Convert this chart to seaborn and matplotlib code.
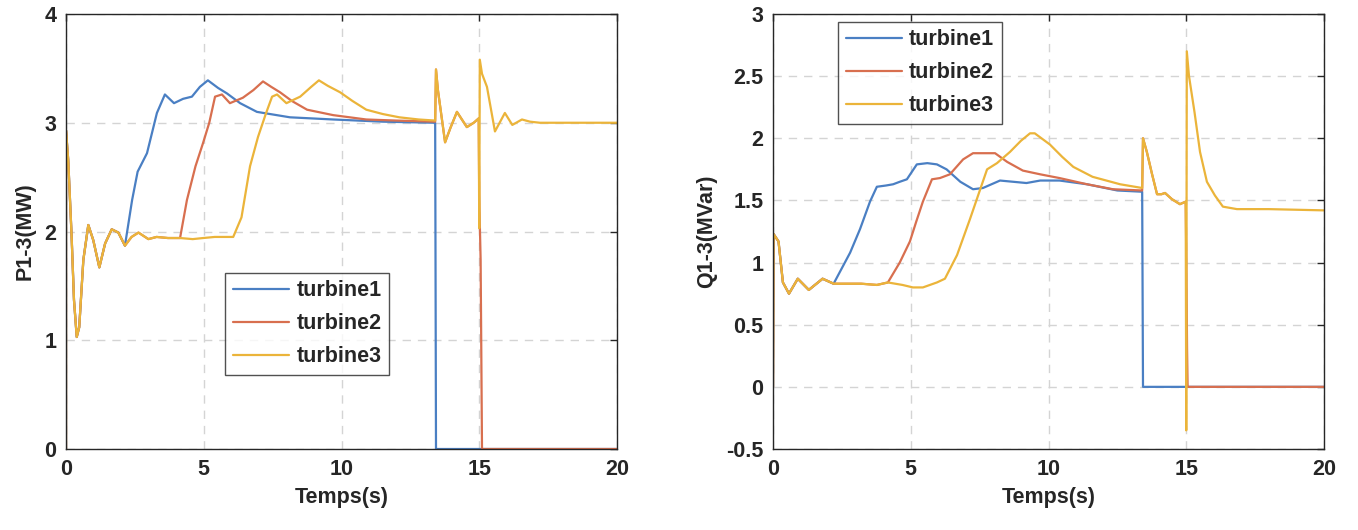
import numpy as np
import pandas as pd
import seaborn as sns
import matplotlib.pyplot as plt
from matplotlib.ticker import FixedLocator, FixedFormatter

# ---------------- active power P (MW) ----------------
# start-up transient, common to the three turbines
P_T_START = [0, 0, 0.08, 0.2, 0.29, 0.39, 0.48, 0.63, 0.81, 0.99, 1.21, 1.42, 1.66, 1.9, 2.14]
P_START = [0, 2.93, 2.66, 1.98, 1.37, 1.03, 1.12, 1.74, 2.06, 1.92, 1.67, 1.89, 2.02, 1.99, 1.87]
# plateau before turbine2 starts
P_T_PLAT_A = [2.38, 2.63, 2.99, 3.29, 3.7, 4.14]
P_PLAT_A = [1.95, 1.99, 1.93, 1.95, 1.94, 1.94]
# plateau before turbine3 starts
P_T_PLAT_B = [4.6, 4.98, 5.4, 5.83, 6.07]
P_PLAT_B = [1.93, 1.94, 1.95, 1.95, 1.95]
# turbine1 rise and settling
P1_T = [2.4, 2.6, 2.94, 3.3, 3.59, 3.92, 4.25, 4.57, 4.86, 5.15, 5.52, 5.84, 6.32, 6.93,
        8.13, 9.7, 11.5, 13.4, 13.43, 15.1, 20]
P1 = [2.29, 2.55, 2.72, 3.09, 3.26, 3.18, 3.22, 3.24, 3.33, 3.39, 3.32, 3.27, 3.18, 3.10,
      3.05, 3.03, 3.01, 3.0, 0, 0, 0]
# turbine2 rise and settling
P2_T = [4.39, 4.7, 4.97, 5.2, 5.41, 5.66, 5.95, 6.42, 6.8, 7.15, 7.45, 7.77, 8.2, 8.75,
        9.7, 10.9, 12.0, 13.4]
P2 = [2.29, 2.6, 2.81, 3.0, 3.24, 3.26, 3.18, 3.23, 3.3, 3.38, 3.33, 3.28, 3.2, 3.12,
      3.07, 3.03, 3.02, 3.01]
# turbine3 rise and settling
P3_T = [6.37, 6.68, 6.97, 7.25, 7.48, 7.66, 8.0, 8.5, 8.9, 9.18, 9.5, 9.95, 10.4, 10.9,
        11.5, 12.1, 12.8, 13.4]
P3 = [2.13, 2.6, 2.87, 3.08, 3.24, 3.26, 3.18, 3.24, 3.33, 3.39, 3.34, 3.28, 3.2, 3.12,
      3.08, 3.05, 3.03, 3.02]
# disturbance after turbine1 trips
P_T_TRIP = [13.43, 13.5, 13.76, 13.95, 14.19, 14.55, 14.8, 14.98]
P_TRIP = [3.49, 3.3, 2.82, 2.95, 3.10, 2.96, 3.0, 3.04]
# turbine2 trip
P2_T_END = [15.0, 15.05, 15.1, 20]
P2_END = [2.3, 1.74, 0, 0]
# turbine3 alone after 15 s
P3_T_END = [15.0, 15.02, 15.1, 15.28, 15.57, 15.93, 16.2, 16.55, 16.84, 17.2, 20]
P3_END = [2.03, 3.58, 3.45, 3.33, 2.92, 3.09, 2.98, 3.03, 3.01, 3.0, 3.0]

# ---------------- reactive power Q (MVar) ----------------
Q_T_START = [0, 0.02, 0.2, 0.36, 0.58, 0.9, 1.3, 1.8, 2.2]
Q_START = [0, 1.23, 1.17, 0.84, 0.75, 0.87, 0.78, 0.87, 0.83]
Q_T_PLAT_A = [2.6, 3.2, 3.77, 4.17]
Q_PLAT_A = [0.83, 0.83, 0.82, 0.84]
Q_T_PLAT_B = [4.7, 5.08, 5.44, 5.95, 6.24]
Q_PLAT_B = [0.82, 0.8, 0.8, 0.84, 0.87]
Q1_T = [2.8, 3.16, 3.52, 3.77, 4.1, 4.36, 4.6, 4.86, 5.22, 5.6, 5.95, 6.3, 6.8, 7.26,
        7.62, 8.24, 9.2, 9.7, 10.4, 11.4, 12.5, 13.4, 13.43, 15.05, 20]
Q1 = [1.08, 1.27, 1.49, 1.61, 1.62, 1.63, 1.65, 1.67, 1.79, 1.8, 1.79, 1.75, 1.65, 1.59,
      1.6, 1.66, 1.64, 1.66, 1.66, 1.63, 1.58, 1.57, 0, 0, 0]
Q2_T = [4.6, 4.97, 5.2, 5.44, 5.77, 6.06, 6.42, 6.9, 7.26, 8.06, 8.5, 9.07, 9.7, 10.4,
        11.4, 12.34, 13.4]
Q2 = [1.0, 1.17, 1.33, 1.49, 1.67, 1.68, 1.71, 1.83, 1.88, 1.88, 1.81, 1.74, 1.71, 1.68,
      1.63, 1.59, 1.58]
Q3_T = [6.68, 7.15, 7.77, 8.13, 8.6, 9.0, 9.33, 9.5, 10.05, 10.5, 10.9, 11.6, 12.6, 13.4]
Q3 = [1.06, 1.35, 1.75, 1.8, 1.89, 1.98, 2.04, 2.04, 1.95, 1.85, 1.77, 1.69, 1.63, 1.6]
Q_T_TRIP = [13.43, 13.57, 13.76, 13.94, 14.1, 14.23, 14.48, 14.77, 14.98]
Q_TRIP = [2.0, 1.89, 1.71, 1.55, 1.55, 1.56, 1.51, 1.47, 1.49]
Q2_T_END = [15.0, 15.03, 15.05, 20]
Q2_END = [1.1, 0.3, 0, 0]
Q3_T_END = [15.0, 15.02, 15.1, 15.3, 15.5, 15.75, 16.04, 16.33, 16.84, 17.5, 18.0, 20]
Q3_END = [-0.35, 2.7, 2.5, 2.21, 1.89, 1.65, 1.54, 1.45, 1.43, 1.43, 1.43, 1.42]

LABELS = ["turbine1", "turbine2", "turbine3"]
COLORS = ["#4a7fc3", "#d86f4f", "#ebb43a"]


def series(*parts):
    t, v = [], []
    for pt, pv in parts:
        t += list(pt)
        v += list(pv)
    return pd.DataFrame({"t": t, "v": v})


p_curves = [
    series((P_T_START, P_START), (P1_T, P1)),
    series((P_T_START, P_START), (P_T_PLAT_A, P_PLAT_A), (P2_T, P2),
           (P_T_TRIP, P_TRIP), (P2_T_END, P2_END)),
    series((P_T_START, P_START), (P_T_PLAT_A, P_PLAT_A), (P_T_PLAT_B, P_PLAT_B),
           (P3_T, P3), (P_T_TRIP, P_TRIP), (P3_T_END, P3_END)),
]
q_curves = [
    series((Q_T_START, Q_START), (Q1_T, Q1)),
    series((Q_T_START, Q_START), (Q_T_PLAT_A, Q_PLAT_A), (Q2_T, Q2),
           (Q_T_TRIP, Q_TRIP), (Q2_T_END, Q2_END)),
    series((Q_T_START, Q_START), (Q_T_PLAT_A, Q_PLAT_A), (Q_T_PLAT_B, Q_PLAT_B),
           (Q3_T, Q3), (Q_T_TRIP, Q_TRIP), (Q3_T_END, Q3_END)),
]

sns.set_style("white")
plt.rcParams["font.family"] = ["Liberation Sans", "DejaVu Sans"]
plt.rcParams["font.weight"] = "bold"

fig = plt.figure(figsize=(13.58, 5.30), dpi=100)
ax_p = fig.add_axes([66 / 1358, 81 / 530, 551 / 1358, 435 / 530])
ax_q = fig.add_axes([773 / 1358, 81 / 530, 551 / 1358, 435 / 530])

FS = 15.5


def style_axes(ax, yticks, ylabels, ylim, ylabel):
    ax.set_xlim(0, 20)
    ax.set_ylim(*ylim)
    ax.xaxis.set_major_locator(FixedLocator([0, 5, 10, 15, 20]))
    ax.yaxis.set_major_locator(FixedLocator(yticks))
    ax.yaxis.set_major_formatter(FixedFormatter(ylabels))
    ax.grid(True, color="#d4d4d4", linestyle=(0, (6, 5)), linewidth=1.0)
    ax.set_axisbelow(True)
    for s in ax.spines.values():
        s.set_color("#262626")
        s.set_linewidth(1.0)
        s.set_visible(True)
    ax.tick_params(direction="in", top=True, right=True, length=5, width=1,
                   color="#262626", labelsize=FS, pad=7)
    for lab in ax.get_xticklabels() + ax.get_yticklabels():
        lab.set_fontweight("bold")
    ax.set_xlabel("Temps(s)", fontsize=FS, fontweight="bold", labelpad=5)
    ax.set_ylabel(ylabel, fontsize=FS, fontweight="bold", labelpad=6)


for ax, curves in ((ax_p, p_curves), (ax_q, q_curves)):
    for df, lab, col in zip(curves, LABELS, COLORS):
        sns.lineplot(data=df, x="t", y="v", ax=ax, estimator=None, sort=False,
                     color=col, linewidth=1.6, label=lab)

style_axes(ax_p, [0, 1, 2, 3, 4], ["0", "1", "2", "3", "4"], (0, 4), "P1-3(MW)")
style_axes(ax_q, [-0.5, 0, 0.5, 1, 1.5, 2, 2.5, 3],
           ["-0.5", "0", "0.5", "1", "1.5", "2", "2.5", "3"], (-0.5, 3), "Q1-3(MVar)")

for ax, anchor in ((ax_p, (0.289, 0.405)), (ax_q, (0.118, 0.982))):
    leg = ax.legend(loc="upper left", bbox_to_anchor=anchor, borderaxespad=0,
                    frameon=True, fancybox=False, fontsize=FS, handlelength=2.6,
                    handletextpad=0.35, labelspacing=0.55, borderpad=0.35)
    leg.get_frame().set_edgecolor("#262626")
    leg.get_frame().set_linewidth(1.0)
    for t in leg.get_texts():
        t.set_fontweight("bold")

fig.savefig("out.png", dpi=100, facecolor="white")
